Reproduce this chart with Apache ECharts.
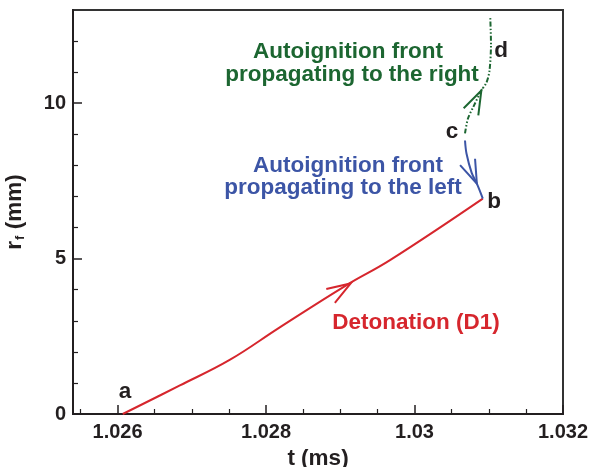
<!DOCTYPE html>
<html>
<head>
<meta charset="utf-8">
<script src="https://cdn.jsdelivr.net/npm/echarts@6/dist/echarts.min.js"></script>
<style>
    html, body { margin: 0; padding: 0; background: #fff; }
    #chart { width: 591px; height: 467px; }
</style>
</head>
<body>
<div id="chart"></div>
<script>
// axis extents and ticks
const tRange = [1.0254, 1.032];
const rRange = [0, 13];
const xMajorTicks = [1.026, 1.028, 1.03, 1.032];
const xMinorTicks = [1.0255, 1.0265, 1.027, 1.0275, 1.0285, 1.029, 1.0295, 1.0305, 1.031, 1.0315];
const yMajorTicks = [0, 5, 10];
const yMinorTicks = [1, 2, 3, 4, 6, 7, 8, 9, 11, 12];

// front trajectories r_f(t)
const detonationT = [1.02607, 1.02684, 1.02751, 1.02818, 1.02908, 1.02967, 1.03092];
const detonationR = [0, 0.92, 1.74, 2.78, 4.14, 4.95, 6.93];
const leftFrontT = [1.03068, 1.03070, 1.03077, 1.03084, 1.03092];
const leftFrontR = [8.80, 8.38, 7.76, 7.41, 6.93];
const rightFrontT = [1.03068, 1.03072, 1.03079, 1.03090, 1.03097, 1.03101, 1.03103, 1.03102];
const rightFrontR = [9.03, 9.51, 9.87, 10.41, 10.67, 11.05, 11.91, 12.76];

// arrow heads: [tip t, tip r, tail t, tail r]
const detonationArrow = [1.02914, 4.20, 1.02818, 2.78];
const leftArrow = [1.03084, 7.41, 1.03077, 7.80];
const rightArrow = [1.03090, 10.41, 1.03079, 9.87];

const RED = '#d6262d';
const BLUE = '#3c55a6';
const GREEN = '#1c6631';
const INK = '#231f20';
const FONT = '"Liberation Sans", Arial, sans-serif';

function pairs(ts, rs) {
    return ts.map((t, i) => [t, rs[i]]);
}

function arrowHead(params, api) {
    const tip = api.coord([api.value(0), api.value(1)]);
    const tail = api.coord([api.value(2), api.value(3)]);
    const dx = tail[0] - tip[0];
    const dy = tail[1] - tip[1];
    const len = Math.hypot(dx, dy);
    const ux = dx / len, uy = dy / len;
    const a = 19 * Math.PI / 180, L = 25;
    const c = Math.cos(a), s = Math.sin(a);
    const p1 = [tip[0] + L * (ux * c - uy * s), tip[1] + L * (ux * s + uy * c)];
    const p2 = [tip[0] + L * (ux * c + uy * s), tip[1] + L * (-ux * s + uy * c)];
    return {
        type: 'polyline',
        shape: { points: [p1, tip, p2] },
        style: { stroke: api.visual('color'), lineWidth: 2, fill: null }
    };
}

function arrowSeries(item, color) {
    return {
        type: 'custom',
        renderItem: arrowHead,
        itemStyle: { color },
        encode: { x: 0, y: 1 },
        data: [item],
        silent: true,
        z: 3
    };
}

function label(text, x, y, color, align) {
    return {
        type: 'text',
        x, y,
        style: {
            text,
            fill: color,
            font: 'bold 22.5px ' + FONT,
            textAlign: align || 'center',
            textVerticalAlign: 'middle'
        },
        z: 10
    };
}

let chartDom = document.getElementById('chart');
let myChart = echarts.init(chartDom);
let option;

const axisLineStyle = { color: INK, width: 2 };

option = {
    animation: false,
    grid: {
        left: 73, right: 28, top: 10, bottom: 53,
        containLabel: false,
        outerBoundsMode: 'none',
        show: true,
        borderColor: '#333',
        borderWidth: 2
    },
    xAxis: [
        {
            type: 'value',
            min: tRange[0],
            max: tRange[1],
            position: 'bottom',
            axisLine: { show: true, lineStyle: axisLineStyle },
            axisTick: { show: true, inside: true, length: 9, customValues: xMajorTicks, lineStyle: { color: INK, width: 1.5 } },
            axisLabel: {
                customValues: xMajorTicks,
                color: INK, fontSize: 20, fontWeight: 'bold', fontFamily: FONT, margin: 8
            },
            splitLine: { show: false },
            name: 't (ms)',
            nameLocation: 'middle',
            nameGap: 28,
            nameTextStyle: { color: INK, fontSize: 22.5, fontWeight: 'bold', fontFamily: FONT }
        },
        {
            type: 'value',
            min: tRange[0],
            max: tRange[1],
            position: 'bottom',
            axisLine: { show: false },
            axisTick: { show: true, inside: true, length: 5, customValues: xMinorTicks, lineStyle: { color: INK, width: 1.2 } },
            axisLabel: { show: false },
            splitLine: { show: false }
        }
    ],
    yAxis: [
        {
            type: 'value',
            min: rRange[0],
            max: rRange[1],
            position: 'left',
            axisLine: { show: true, lineStyle: axisLineStyle },
            axisTick: { show: true, inside: true, length: 9, customValues: yMajorTicks, lineStyle: { color: INK, width: 1.5 } },
            axisLabel: {
                customValues: yMajorTicks,
                color: INK, fontSize: 20, fontWeight: 'bold', fontFamily: FONT, margin: 7
            },
            splitLine: { show: false },
            name: '{n|r}{s|f}{n| (mm)}',
            nameLocation: 'middle',
            nameGap: 46,
            nameTextStyle: {
                rich: {
                    n: { color: INK, fontSize: 22.5, fontWeight: 'bold', fontFamily: FONT },
                    s: { color: INK, fontSize: 13, fontWeight: 'bold', fontFamily: FONT, verticalAlign: 'bottom', padding: [12, 0, 0, 1] }
                }
            }
        },
        {
            type: 'value',
            min: rRange[0],
            max: rRange[1],
            position: 'left',
            axisLine: { show: false },
            axisTick: { show: true, inside: true, length: 5, customValues: yMinorTicks, lineStyle: { color: INK, width: 1.2 } },
            axisLabel: { show: false },
            splitLine: { show: false }
        }
    ],
    series: [
        {
            name: 'Detonation (D1)',
            type: 'line',
            data: pairs(detonationT, detonationR),
            smooth: 0.4,
            showSymbol: false,
            lineStyle: { color: RED, width: 2 }
        },
        {
            name: 'Left front',
            type: 'line',
            data: pairs(leftFrontT, leftFrontR),
            smooth: 0.3,
            showSymbol: false,
            lineStyle: { color: BLUE, width: 2 }
        },
        {
            name: 'Right front',
            type: 'line',
            data: pairs(rightFrontT, rightFrontR),
            smooth: 0.3,
            showSymbol: false,
            lineStyle: { color: GREEN, width: 2, type: [5, 2, 1.5, 2, 1.5, 2] }
        },
        arrowSeries(detonationArrow, RED),
        arrowSeries(leftArrow, BLUE),
        arrowSeries(rightArrow, GREEN)
    ],
    graphic: [
        label('Autoignition front', 348, 52, GREEN),
        label('propagating to the right', 352, 75, GREEN),
        label('Autoignition front', 348, 166, BLUE),
        label('propagating to the left', 343, 188, BLUE),
        label('Detonation (D1)', 416, 323, RED),
        label('a', 125, 392, INK),
        label('b', 494, 202, INK),
        label('c', 452, 132, INK),
        label('d', 501, 51, INK)
    ]
};

option && myChart.setOption(option);
</script>
</body>
</html>
